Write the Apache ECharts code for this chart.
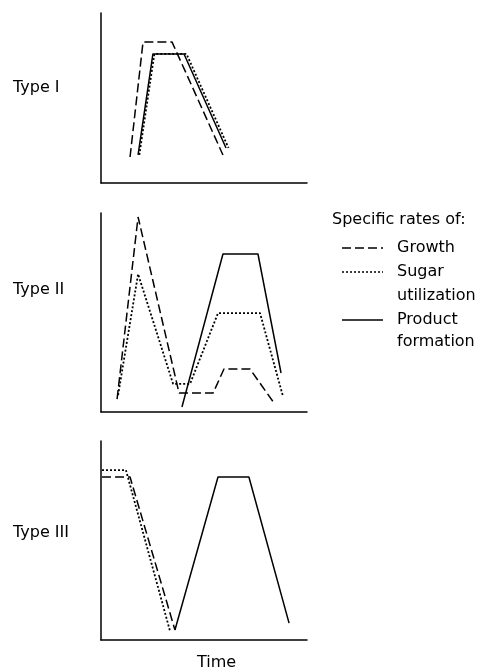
<!DOCTYPE html>
<html>
<head>
<meta charset="utf-8">
<script src="https://cdn.jsdelivr.net/npm/echarts@6/dist/echarts.min.js"></script>
<style>
  html, body { margin: 0; padding: 0; background: #fff; }
</style>
</head>
<body>
<div id="chart" style="width: 482px; height: 668px;"></div>
<script>
// time (0-100) / rate (0-100) pairs, one array per curve
var type1Growth = [[14.1, 15.3], [20.4, 82.9], [34.5, 82.9], [59.2, 16.5]]
var type1Sugar = [[18.6, 16.5], [25.9, 75.9], [41.5, 75.9], [61.9, 20.6]]
var type1Product = [[18.0, 16.5], [25.2, 75.9], [40.3, 75.9], [60.7, 20.6]]

var type2Growth = [[7.8, 6.5], [18.0, 98.0], [37.9, 9.5], [54.4, 9.5], [59.7, 21.6], [72.3, 21.6], [84.0, 4.5]]
var type2Sugar = [[8.3, 8.5], [18.0, 69.3], [35.0, 14.1], [43.2, 14.1], [56.8, 49.7], [77.2, 49.7], [88.3, 8.0]]
var type2Product = [[39.3, 2.5], [59.2, 79.4], [76.2, 79.4], [87.4, 19.6]]

var type3Growth = [[0.5, 81.9], [14.1, 81.9], [35.9, 5.0]]
var type3Sugar = [[0.5, 85.4], [12.1, 85.4], [33.5, 4.5]]
var type3Product = [[35.9, 5.0], [56.8, 81.9], [71.8, 81.9], [91.3, 8.5]]

var panelNames = ['Type I', 'Type II', 'Type III']
var seriesNames = ['Growth', 'Sugar utilization', 'Product formation']

var font = '16px DejaVu Sans'

// 虚线样式
var styles = {
  'Growth': { type: [9, 4], width: 1.5 },
  'Sugar utilization': { type: [2, 2], width: 1.8 },
  'Product formation': { type: 'solid', width: 1.5 }
}

function axisX(i) {
  return {
    type: 'value', gridIndex: i, min: 0, max: 100,
    axisLine: { lineStyle: { color: '#000', width: 1.5 } },
    axisTick: { show: false }, axisLabel: { show: false }, splitLine: { show: false }
  }
}
function axisY(i) {
  return {
    type: 'value', gridIndex: i, min: 0, max: 100,
    axisLine: { show: true, lineStyle: { color: '#000', width: 1.5 } },
    axisTick: { show: false }, axisLabel: { show: false }, splitLine: { show: false }
  }
}
function line(i, name, data) {
  return {
    name: name, type: 'line', xAxisIndex: i, yAxisIndex: i,
    data: data, symbol: 'none', silent: true,
    lineStyle: { color: '#000', type: styles[name].type, width: styles[name].width }
  }
}
function label(x, y, text, lh) {
  return { type: 'text', left: x, top: y, style: { text: text, font: font, fill: '#000', lineHeight: lh || 20 } }
}

var chart = echarts.init(document.getElementById('chart'))
chart.setOption({
  animation: false,
  backgroundColor: '#fff',
  grid: [
    { left: 101, top: 13, width: 206, height: 170 },
    { left: 101, top: 213, width: 206, height: 199 },
    { left: 101, top: 441, width: 206, height: 199 }
  ],
  xAxis: [axisX(0), axisX(1), axisX(2)],
  yAxis: [axisY(0), axisY(1), axisY(2)],
  series: [
    line(0, 'Growth', type1Growth),
    line(0, 'Sugar utilization', type1Sugar),
    line(0, 'Product formation', type1Product),
    line(1, 'Growth', type2Growth),
    line(1, 'Sugar utilization', type2Sugar),
    line(1, 'Product formation', type2Product),
    line(2, 'Growth', type3Growth),
    line(2, 'Sugar utilization', type3Sugar),
    line(2, 'Product formation', type3Product)
  ],
  graphic: [
    label(13, 78, panelNames[0]),
    label(13, 280, panelNames[1]),
    label(13, 523, panelNames[2]),
    label(197, 653, 'Time'),
    // 图例
    label(332, 210, 'Specific rates of:'),
    { type: 'line', shape: { x1: 342, y1: 248, x2: 383, y2: 248 }, style: { stroke: '#000', lineWidth: 1.5, lineDash: styles['Growth'].type } },
    label(397, 238, seriesNames[0]),
    { type: 'line', shape: { x1: 342, y1: 272, x2: 383, y2: 272 }, style: { stroke: '#000', lineWidth: 1.5, lineDash: styles['Sugar utilization'].type } },
    label(397, 260, 'Sugar\nutilization', 24),
    { type: 'line', shape: { x1: 342, y1: 320, x2: 383, y2: 320 }, style: { stroke: '#000', lineWidth: 1.5 } },
    label(397, 309, 'Product\nformation', 22)
  ]
})
</script>
</body>
</html>
